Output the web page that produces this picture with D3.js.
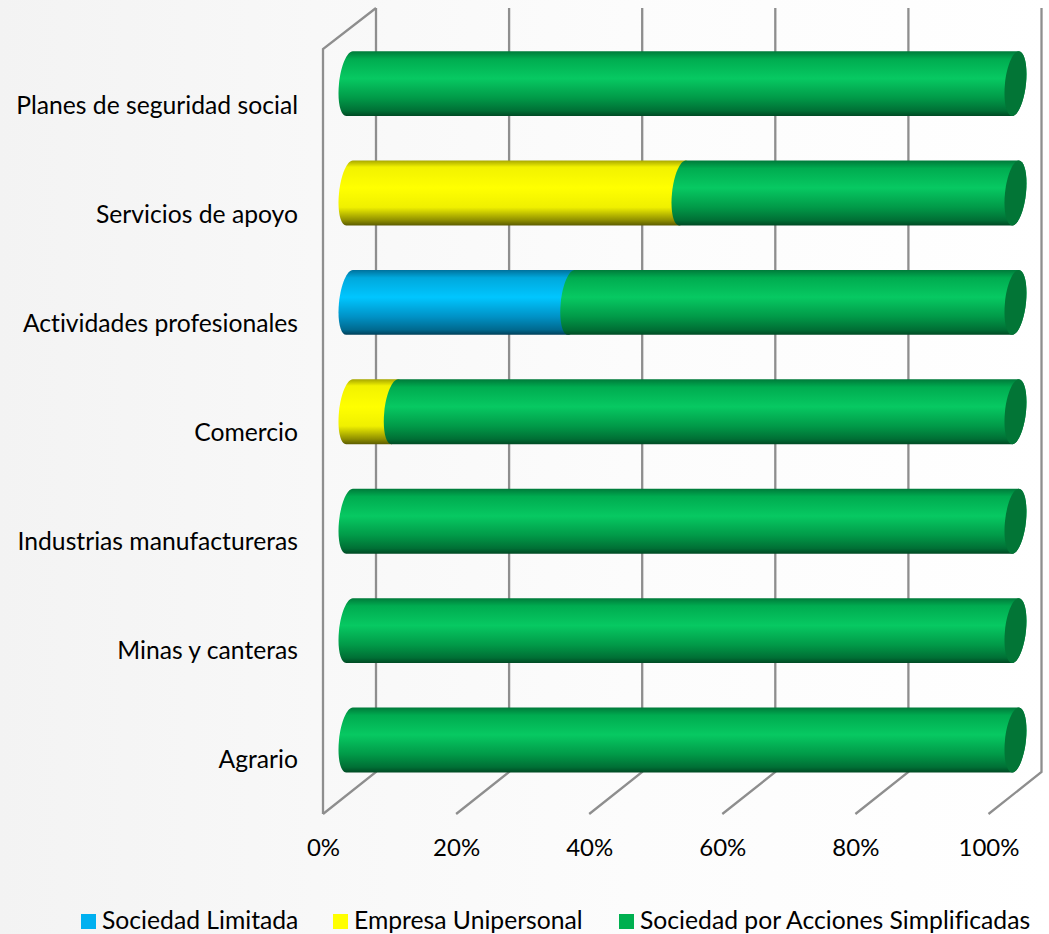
<!DOCTYPE html>
<html>
<head>
<meta charset="utf-8">
<script src="https://cdn.jsdelivr.net/npm/d3@7"></script>
<style>
  html, body { margin: 0; padding: 0; background: #fff; }
  text { font-family: Lato, "Open Sans", sans-serif; fill: #000; font-variant-ligatures: none; }
</style>
</head>
<body>
<div id="chart"></div>
<script>
// chart data, top row first
const categories = ["Planes de seguridad social", "Servicios de apoyo", "Actividades profesionales",
  "Comercio", "Industrias manufactureras", "Minas y canteras", "Agrario"];
const seriesNames = ["Sociedad Limitada", "Empresa Unipersonal", "Sociedad por Acciones Simplificadas"];
const limitada = [0, 0, 33.3, 0, 0, 0, 0];
const unipersonal = [0, 50, 0, 6.8, 0, 0, 0];
const simplificadas = [100, 50, 66.7, 93.2, 100, 100, 100];
const xTicks = [0, 20, 40, 60, 80, 100];

const width = 1049, height = 934;

const svg = d3.select("#chart").append("svg")
  .attr("width", width)
  .attr("height", height)
  .style("display", "block");

const defs = svg.append("defs");

// page background, slightly grey on the left
const bg = defs.append("linearGradient").attr("id", "bg");
bg.append("stop").attr("offset", "0%").attr("stop-color", "#f3f3f3");
bg.append("stop").attr("offset", "30%").attr("stop-color", "#f8f8f8");
bg.append("stop").attr("offset", "60%").attr("stop-color", "#fcfcfc");
bg.append("stop").attr("offset", "100%").attr("stop-color", "#ffffff");
svg.append("rect").attr("width", width).attr("height", height).attr("fill", "url(#bg)");

// vertical shading for the cylinders
function cylinderGradient(id, stops) {
  const g = defs.append("linearGradient").attr("id", id)
    .attr("x1", 0).attr("y1", 0).attr("x2", 0).attr("y2", 1);
  stops.forEach(function(s) {
    g.append("stop").attr("offset", s[0]).attr("stop-color", s[1]);
  });
}
cylinderGradient("shade0", [[0, "#00719c"], [0.12, "#00a8dc"], [0.42, "#00c6ff"], [0.72, "#0092c6"], [0.92, "#006a90"], [1, "#003f58"]]);
cylinderGradient("shade1", [[0, "#a8a800"], [0.1, "#f2f200"], [0.42, "#ffff00"], [0.72, "#f0f000"], [0.92, "#8f8f00"], [1, "#5c5c00"]]);
cylinderGradient("shade2", [[0, "#007a3a"], [0.12, "#00ac50"], [0.42, "#07c962"], [0.72, "#019a48"], [0.92, "#006f35"], [1, "#004a24"]]);

// the bars sit in the middle of the floor depth, so three x scales
const xFront = d3.scaleLinear().domain([0, 100]).range([323, 988.5]);
const xBack = d3.scaleLinear().domain([0, 100]).range([376, 1041.5]);
const xBar = d3.scaleLinear().domain([0, 100]).range([349.5, 1015.5]);
const y = d3.scaleBand().domain(categories).range([29.3, 794.3]).paddingInner(0.407).paddingOuter(0.2);
// labels drift a little from the bars, as in the 3D projection
const yLabel = d3.scalePoint().domain(categories).range([106, 760]);

const backTop = 8, backBottom = 772, frontTop = 49, frontBottom = 814;
const grid = svg.append("g")
  .attr("fill", "none")
  .attr("stroke", "#8e8e8e")
  .attr("stroke-width", 2.3);

// back wall lines plus the floor diagonals
grid.selectAll("path.tick-line")
  .data(xTicks)
  .enter()
  .append("path")
  .attr("class", "tick-line")
  .attr("d", function(d) {
    return "M" + xBack(d) + "," + backTop + "V" + backBottom + "L" + xFront(d) + "," + frontBottom;
  });

// left side wall
grid.append("path")
  .attr("d", "M" + xFront(0) + "," + frontBottom + "V" + frontTop + "L" + xBack(0) + "," + backTop);

// stack the three series
const rows = categories.map(function(c, i) {
  return { category: c, 0: limitada[i], 1: unipersonal[i], 2: simplificadas[i] };
});
const stacked = d3.stack().keys([0, 1, 2])(rows);

const rx = 10.5, skew = 3.3, k = 0.5523;

// half of a slanted ellipse, going through the right side (dir 1) or left side (dir -1)
function halfEllipse(p, cx, cy, ry, dir) {
  if (dir > 0) {
    p.bezierCurveTo(cx + skew + k * rx, cy - ry, cx + rx + k * skew, cy - k * ry, cx + rx, cy);
    p.bezierCurveTo(cx + rx - k * skew, cy + k * ry, cx - skew + k * rx, cy + ry, cx - skew, cy + ry);
  } else {
    p.bezierCurveTo(cx - skew - k * rx, cy + ry, cx - rx - k * skew, cy + k * ry, cx - rx, cy);
    p.bezierCurveTo(cx - rx + k * skew, cy - k * ry, cx + skew - k * rx, cy - ry, cx + skew, cy - ry);
  }
}

function cylinder(x0, x1, top, h) {
  const ry = h / 2, cy = top + ry;
  const p = d3.path();
  p.moveTo(x0 + skew, top);
  p.lineTo(x1 + skew, top);
  halfEllipse(p, x1, cy, ry, 1);
  p.lineTo(x0 - skew, top + h);
  halfEllipse(p, x0, cy, ry, -1);
  p.closePath();
  return p.toString();
}

function endCap(cx, top, h) {
  const ry = h / 2, cy = top + ry;
  const p = d3.path();
  p.moveTo(cx + skew, top);
  halfEllipse(p, cx, cy, ry, 1);
  halfEllipse(p, cx, cy, ry, -1);
  p.closePath();
  return p.toString();
}

stacked.forEach(function(layer, i) {
  svg.append("g")
    .selectAll("path")
    .data(layer.filter(function(d) { return d[1] > d[0]; }))
    .enter()
    .append("path")
    .attr("d", function(d) {
      return cylinder(xBar(d[0]), xBar(d[1]), y(d.data.category), y.bandwidth());
    })
    .attr("fill", "url(#shade" + i + ")");
});

// dark end face on every finished bar
svg.append("g")
  .selectAll("path")
  .data(categories)
  .enter()
  .append("path")
  .attr("d", function(d) { return endCap(xBar(100), y(d), y.bandwidth()); })
  .attr("fill", "#027536");

// category labels
const yAxis = svg.append("g")
  .attr("transform", "translate(298,0)")
  .call(d3.axisLeft(yLabel).tickSize(0).tickPadding(0));
yAxis.select(".domain").remove();
yAxis.selectAll("text")
  .style("font-family", "Lato, sans-serif")
  .style("font-size", "24.7px");

// percentage labels
const xAxis = svg.append("g")
  .attr("transform", "translate(0,839)")
  .call(d3.axisBottom(xFront).tickValues(xTicks).tickSize(0).tickPadding(0)
    .tickFormat(function(d) { return d + "%"; }));
xAxis.select(".domain").remove();
xAxis.selectAll("text")
  .style("font-family", "Lato, sans-serif")
  .style("font-size", "24px");

// legend
const legendX = [81, 333, 619];
const legendFill = ["#00b0f0", "#ffff00", "#00b050"];
const legend = svg.append("g")
  .selectAll("g")
  .data(seriesNames)
  .enter()
  .append("g")
  .attr("transform", function(d, i) { return "translate(" + legendX[i] + ",914)"; });
legend.append("rect")
  .attr("width", 15)
  .attr("height", 15)
  .attr("fill", function(d, i) { return legendFill[i]; });
legend.append("text")
  .attr("x", 21)
  .attr("y", 15)
  .style("font-size", "24.7px")
  .text(function(d) { return d; });
</script>
</body>
</html>
